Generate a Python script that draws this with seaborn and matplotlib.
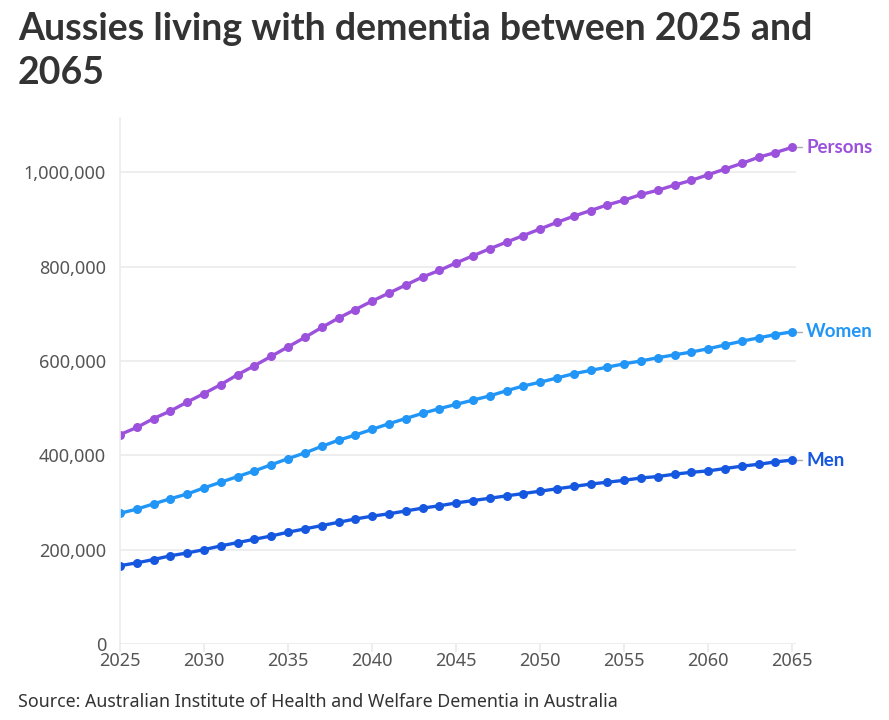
import pandas as pd
import matplotlib.pyplot as plt
import seaborn as sns

# Datos (personas con demencia, 2025-2065)
years = list(range(2025, 2066))

persons = [444, 459, 478, 494, 513, 531, 550, 571, 590, 610,
           630, 650, 671, 691, 709, 727, 744, 761, 778, 792,
           808, 823, 838, 852, 866, 880, 894, 907, 919, 931,
           941, 953, 962, 973, 983, 995, 1007, 1019, 1032, 1042,
           1053]
women = [277, 286, 297, 308, 318, 331, 343, 355, 367, 380,
         393, 405, 419, 432, 443, 455, 467, 478, 489, 499,
         508, 517, 526, 537, 547, 555, 564, 573, 580, 587,
         594, 600, 607, 613, 619, 626, 634, 642, 649, 656,
         662]
men = [166, 172, 179, 187, 193, 200, 208, 215, 222, 229,
       237, 244, 251, 258, 265, 271, 276, 282, 288, 293,
       299, 304, 309, 314, 319, 324, 329, 334, 339, 343,
       347, 352, 355, 360, 364, 367, 372, 377, 381, 386,
       390]

series_names = ['Persons', 'Women', 'Men']
colores = {'Persons': '#9b51dc', 'Women': '#2196f6', 'Men': '#1657e0'}

data = pd.DataFrame({
    'year': years * 3,
    'value': [v * 1000 for v in persons + women + men],
    'serie': sum([[n] * len(years) for n in series_names], []),
})

sns.set_theme(style='white')
plt.rcParams['font.family'] = ['Noto Sans', 'DejaVu Sans']

fig = plt.figure(figsize=(8.89, 7.2), dpi=100)
ax = fig.add_axes([0.135, 0.1056, 0.76, 0.7304])

sns.lineplot(data=data, x='year', y='value', hue='serie', palette=colores,
             marker='o', markersize=6.5, markeredgewidth=0, linewidth=2.4,
             legend=False, ax=ax)

ax.set_xlim(2025, 2065.2)
ax.set_ylim(0, 1115000)
ax.set_xticks(range(2025, 2066, 5))
ax.set_yticks(range(0, 1000001, 200000))
ax.set_yticklabels([f'{v:,}' for v in range(0, 1000001, 200000)])
ax.grid(axis='y', color='#ebebeb', linewidth=1.2)
ax.set_axisbelow(True)
for s in ['top', 'right', 'bottom']:
    ax.spines[s].set_visible(False)
ax.spines['left'].set_color('#ebebeb')
ax.spines['left'].set_linewidth(1.2)
ax.tick_params(axis='y', length=8, width=1.2, color='#ebebeb',
               labelsize=13, labelcolor='#555555', pad=2)
ax.tick_params(axis='x', bottom=True, length=6, width=1.2, color='#ebebeb',
               labelsize=13, labelcolor='#555555', pad=0)
ax.set_xlabel('')
ax.set_ylabel('')

# Etiquetas al final de cada linea
finales = {'Persons': persons[-1], 'Women': women[-1], 'Men': men[-1]}
for nombre, val in finales.items():
    ax.annotate(nombre, xy=(years[-1], val * 1000), xytext=(10, 0),
                textcoords='offset points', va='center', ha='left',
                fontsize=13.5, fontweight='bold', color=colores[nombre],
                family=['Lato', 'DejaVu Sans'], annotation_clip=False)
    ax.plot([years[-1] + 0.3, years[-1] + 0.6], [val * 1000, val * 1000],
            color='#aaaaaa', linewidth=1, clip_on=False)

fig.text(0.02, 0.983, 'Aussies living with dementia between 2025 and\n2065',
         fontsize=27, fontweight='bold', color='#333333', va='top', ha='left',
         linespacing=1.35, family=['Lato', 'DejaVu Sans'])
fig.text(0.02, 0.012, 'Source: Australian Institute of Health and Welfare Dementia in Australia',
         fontsize=12.8, color='#333333', ha='left', va='bottom')

fig.savefig('out.png', dpi=100)
